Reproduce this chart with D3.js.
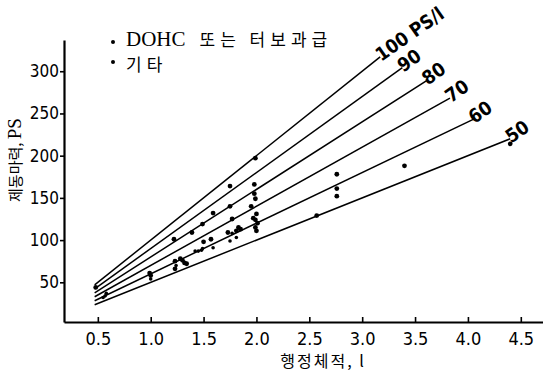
<!DOCTYPE html>
<html>
<head>
<meta charset="utf-8">
<script src="https://cdn.jsdelivr.net/npm/d3@7"></script>
<style>
  body { margin: 0; background: #fff; }
  svg { display: block; }
</style>
</head>
<body>
<figure id="chart" style="margin:0"></figure>
<script>
// specific power lines, PS per litre, and where each one ends (litres)
const ratings = [100, 90, 80, 70, 60, 50];
const lineEnds = [3.17, 3.38, 3.61, 3.83, 4.05, 4.40];
const lineStart = 0.47;

// DOHC or turbocharged engines: displacement (l), brake power (PS)
const dohcDisp  = [0.48, 1.00, 0.99, 1.22, 1.23, 1.23, 1.28, 1.30, 1.32, 1.34, 1.39, 1.49, 1.50, 1.57, 1.59,
                   1.75, 1.75, 1.77, 1.73, 1.81, 1.83, 1.85, 1.98, 1.99, 1.98, 1.99, 1.95, 1.97, 1.99, 2.00,
                   2.01, 1.99, 2.00, 2.57, 2.76, 2.76, 2.76, 3.40, 4.40];
const dohcPower = [44, 58, 61, 101, 75, 66, 78, 76, 73, 72, 109, 119, 98, 101, 132,
                   164, 140, 125, 109, 111, 115, 113, 166, 197, 155, 149, 140, 126, 124, 131,
                   120, 115, 111, 129, 178, 161, 152, 188, 214];

// others
const otherDisp  = [0.55, 0.57, 0.58, 1.00, 1.24, 1.42, 1.45, 1.48, 1.49, 1.59, 1.75, 1.77, 1.81];
const otherPower = [32, 34, 37, 54, 70, 87, 87, 88, 90, 91, 99, 108, 103];

const xTicks = [0.5, 1.0, 1.5, 2.0, 2.5, 3.0, 3.5, 4.0, 4.5];
const yTicks = [50, 100, 150, 200, 250, 300];

const W = 543, H = 372;
const svg = d3.select("#chart").append("svg")
  .attr("width", W).attr("height", H);

const x = d3.scaleLinear().domain([0.18, 4.71]).range([64, 543]);
const y = d3.scaleLinear().domain([3, 337]).range([322, 40]);

const numFont = "'DejaVu Sans Condensed', 'DejaVu Sans'";

// Axes
const xAxis = svg.append("g")
  .attr("transform", "translate(0," + y(3) + ")")
  .call(d3.axisBottom(x).tickValues(xTicks).tickFormat(d3.format(".1f")).tickSizeInner(-5).tickSizeOuter(0).tickPadding(10));
xAxis.select(".domain").attr("stroke-width", 2.2);
xAxis.selectAll(".tick line").attr("stroke-width", 1.6);
xAxis.selectAll("text")
  .style("font-family", numFont)
  .style("font-size", "18px")
  .attr("fill", "#000");

const yAxis = svg.append("g")
  .attr("transform", "translate(" + x(0.18) + ",0)")
  .call(d3.axisLeft(y).tickValues(yTicks).tickSizeInner(4).tickSizeOuter(0).tickPadding(1));
yAxis.select(".domain").attr("stroke-width", 2.2);
yAxis.selectAll(".tick line").attr("stroke-width", 1.6);
yAxis.selectAll("text")
  .style("font-family", numFont)
  .style("font-size", "17px")
  .attr("fill", "#000");

// Specific power lines
const lines = svg.append("g");
ratings.forEach((r, i) => {
  const x1 = lineStart, x2 = lineEnds[i];
  lines.append("line")
    .attr("x1", x(x1)).attr("y1", y(r * x1))
    .attr("x2", x(x2)).attr("y2", y(r * x2))
    .attr("stroke", "#000").attr("stroke-width", 1.5);
  lines.append("text")
    .attr("transform", "translate(" + (x(x2) + 1) + "," + (y(r * x2) + 5) + ") rotate(-35)")
    .style("font-family", numFont)
    .style("font-size", "19px")
    .style("font-weight", "bold")
    .text(i === 0 ? r + " PS/l" : r);
});

// Dots
const dots = svg.append("g");
dots.selectAll("circle.dohc")
  .data(d3.zip(dohcDisp, dohcPower))
  .enter().append("circle")
  .attr("class", "dohc")
  .attr("cx", d => x(d[0]))
  .attr("cy", d => y(d[1]))
  .attr("r", 2.4);
dots.selectAll("circle.other")
  .data(d3.zip(otherDisp, otherPower))
  .enter().append("circle")
  .attr("class", "other")
  .attr("cx", d => x(d[0]))
  .attr("cy", d => y(d[1]))
  .attr("r", 1.8);

// Legend
svg.append("circle").attr("cx", 113).attr("cy", 42).attr("r", 2);
svg.append("circle").attr("cx", 113).attr("cy", 62).attr("r", 2);
const leg1 = svg.append("text").attr("x", 126).attr("y", 46);
leg1.append("tspan").style("font-family", "'Liberation Serif'").style("font-size", "21px").text("DOHC");
leg1.append("tspan").attr("dx", 14)
  .style("font-family", "'Noto Sans CJK KR'").style("font-size", "17px").style("letter-spacing", "5px")
  .text("또는 터보과급");
svg.append("text").attr("x", 126).attr("y", 71)
  .style("font-family", "'Noto Sans CJK KR'").style("font-size", "17px").style("letter-spacing", "5px")
  .text("기타");

// Axis titles
const yt = svg.append("text")
  .attr("transform", "translate(21,160) rotate(-90)")
  .attr("text-anchor", "middle");
yt.append("tspan").style("font-family", "'Noto Sans CJK KR'").style("font-size", "15px").text("제동마력, ");
yt.append("tspan").style("font-family", "'Liberation Serif'").style("font-size", "19px").text("PS");

svg.append("text")
  .attr("x", 323).attr("y", 367)
  .attr("text-anchor", "middle")
  .style("font-family", "'Noto Sans CJK KR'").style("font-size", "16px").style("letter-spacing", "2px")
  .text("행정체적, l");
</script>
</body>
</html>
